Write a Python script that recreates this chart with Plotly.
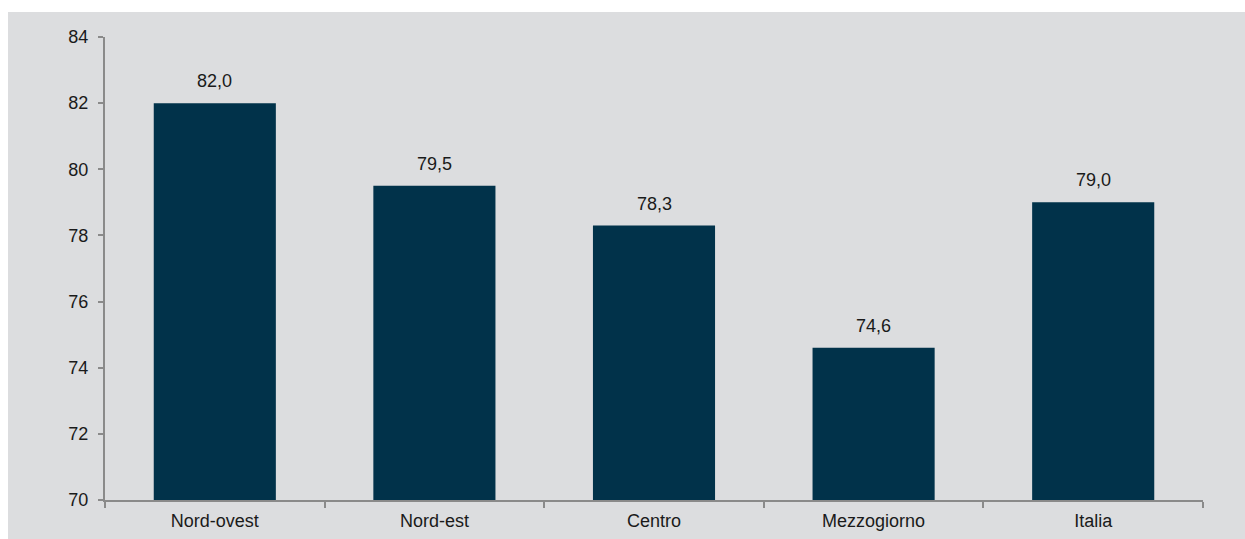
import plotly.graph_objects as go

# Regional values
regions = ["Nord-ovest", "Nord-est", "Centro", "Mezzogiorno", "Italia"]
values = [82.0, 79.5, 78.3, 74.6, 79.0]
y_ticks = [70, 72, 74, 76, 78, 80, 82, 84]

BAR_COLOR = "#01324A"
PANEL_COLOR = "#DCDDDF"
AXIS_COLOR = "#8A8A8A"
FONT = "Liberation Sans, Arial, sans-serif"

W, H = 1245, 539
ML, MR, MT, MB = 105, 42, 37, 39
pw, ph = W - ML - MR, H - MT - MB

fig = go.Figure()
fig.add_trace(go.Bar(
    x=regions,
    y=values,
    marker=dict(color=BAR_COLOR, line=dict(width=0)),
    hoverinfo="x+y",
))

# Value labels above the bars
for r, v in zip(regions, values):
    fig.add_annotation(
        x=r, y=v, text=f"{v:.1f}".replace(".", ","),
        showarrow=False, yanchor="bottom", yshift=10,
        font=dict(family=FONT, size=18, color="#1A1A1A"),
    )

# Grey panel behind the chart (runs off the bottom and right edges)
fig.add_shape(
    type="rect", xref="paper", yref="paper", layer="below",
    x0=(8 - ML) / pw, x1=(W + 10 - ML) / pw,
    y0=-(MB + 10) / ph, y1=((H - MB) - 12) / ph,
    fillcolor=PANEL_COLOR, line=dict(width=0),
)

fig.update_layout(
    width=W, height=H,
    margin=dict(l=ML, r=MR, t=MT, b=MB, pad=0, autoexpand=False),
    paper_bgcolor="white",
    plot_bgcolor="rgba(0,0,0,0)",
    bargap=0.444,
    showlegend=False,
    separators=",.",
    font=dict(family=FONT, size=18, color="#1A1A1A"),
    xaxis=dict(
        type="category",
        automargin=False,
        showline=True, linecolor=AXIS_COLOR, linewidth=2,
        ticks="outside", tickson="boundaries", ticklen=6,
        tickcolor=AXIS_COLOR, tickwidth=2,
        showgrid=False, zeroline=False,
        ticklabelstandoff=3,
        tickfont=dict(family=FONT, size=18, color="#1A1A1A"),
    ),
    yaxis=dict(
        range=[70, 84],
        automargin=False,
        tickvals=y_ticks,
        showline=True, linecolor=AXIS_COLOR, linewidth=2,
        ticks="outside", ticklen=5, tickcolor=AXIS_COLOR, tickwidth=2,
        showgrid=False, zeroline=False,
        ticklabelstandoff=6,
        tickfont=dict(family=FONT, size=18, color="#1A1A1A"),
    ),
)

fig.write_html("out.html")
